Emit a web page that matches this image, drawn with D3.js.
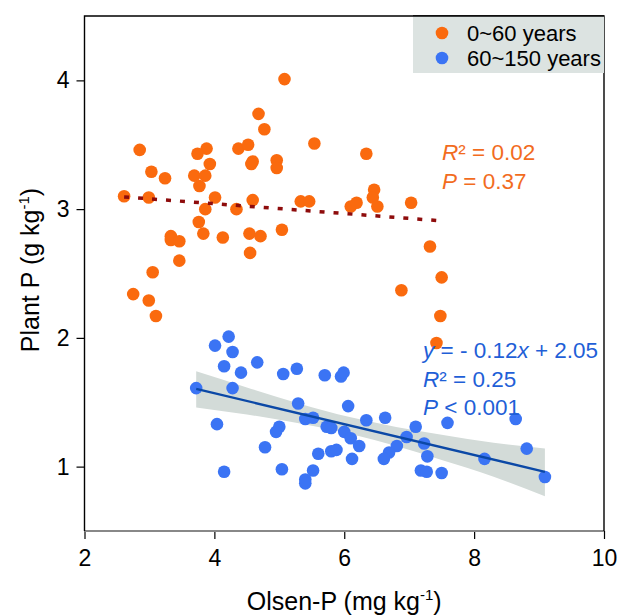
<!DOCTYPE html>
<html>
<head>
<meta charset="utf-8">
<script src="https://cdn.jsdelivr.net/npm/d3@7"></script>
<style>
  body { margin: 0; background: #fff; }
  svg { display: block; font-family: "Liberation Sans", Arial, sans-serif; }
</style>
</head>
<body>
<svg width="619" height="615"></svg>
<script>
// 0~60 years (orange)
let youngX = [5.08, 4.68, 4.77, 2.85, 5.54, 3.88, 3.74, 4.37, 4.52, 3.93, 4.59, 4.57, 4.96, 4.96, 3.03,
  3.24, 3.69, 3.86, 3.77, 2.61, 2.99, 4.01, 4.59, 5.33, 5.46, 6.10, 6.19, 3.86, 4.34, 3.76,
  3.83, 3.33, 3.33, 3.46, 4.13, 4.54, 4.71, 5.04, 4.55, 3.46, 3.05, 2.75, 2.99, 3.10,
  6.34, 6.46, 6.44, 6.51, 7.03, 7.32, 7.50, 6.88, 7.48, 7.42];
let youngY = [4.01, 3.74, 3.62, 3.46, 3.51, 3.47, 3.43, 3.47, 3.50, 3.35, 3.37, 3.35, 3.38, 3.32, 3.29,
  3.24, 3.26, 3.26, 3.18, 3.10, 3.09, 3.09, 3.07, 3.06, 3.06, 3.02, 3.05, 3.00, 3.00, 2.90,
  2.81, 2.79, 2.76, 2.75, 2.78, 2.81, 2.79, 2.84, 2.66, 2.60, 2.51, 2.34, 2.29, 2.17,
  3.43, 3.15, 3.09, 3.02, 3.05, 2.71, 2.47, 2.37, 2.17, 1.96];

// 60~150 years (blue)
let oldX = [4.22, 4.01, 4.28, 4.15, 4.66, 4.41, 5.06, 5.27, 5.70, 5.95, 5.99, 3.72, 4.28, 5.29, 6.06,
  4.04, 5.40, 5.52, 5.73, 5.80, 6.00, 6.10, 6.23, 5.00, 4.95, 4.78, 5.60, 5.80, 5.88, 6.12,
  4.15, 5.04, 5.52, 5.40, 5.40, 6.34, 6.63, 7.10, 7.59, 8.64, 8.81, 9.09, 8.16, 7.28, 7.23,
  6.96, 6.81, 6.69, 6.61, 7.18, 7.27, 7.50];
let oldY = [2.01, 1.94, 1.89, 1.78, 1.81, 1.73, 1.72, 1.76, 1.71, 1.70, 1.73, 1.61, 1.61, 1.49, 1.47,
  1.33, 1.37, 1.38, 1.31, 1.30, 1.27, 1.22, 1.16, 1.31, 1.27, 1.15, 1.10, 1.12, 1.13, 1.06,
  0.96, 0.98, 0.97, 0.90, 0.87, 1.36, 1.38, 1.31, 1.34, 1.37, 1.14, 0.92, 1.06, 1.08, 1.18,
  1.23, 1.16, 1.11, 1.06, 0.97, 0.96, 0.95];

// fitted lines
let youngFit = { slope: -0.038, intercept: 3.194, from: 2.61, to: 7.42 };
let oldFit = { slope: -0.12, intercept: 2.05 };

// 95% band around blue fit
let bandX = [3.72, 4.5, 5.3, 6.1, 6.8, 7.5, 8.3, 9.09];
let bandLo = [1.46, 1.405, 1.337, 1.253, 1.16, 1.052, 0.922, 0.77];
let bandHi = [1.74, 1.615, 1.491, 1.383, 1.308, 1.248, 1.186, 1.14];

let xTicks = [2, 4, 6, 8, 10];
let yTicks = [1, 2, 3, 4];
let legendLabels = ["0~60 years", "60~150 years"];

let orange = "#fa6a0e", blue = "#3b74f4";

var svg = d3.select("svg");
let plotL = 84.5, plotR = 604, plotT = 16, plotB = 531;

let x = d3.scaleLinear().domain([2, 10]).range([plotL, plotR]);
let y = d3.scaleLinear().domain([0.5, 4.5]).range([plotB, plotT]);

// axes
let xAxis = svg.append("g")
  .attr("transform", translate(0, plotB))
  .call(d3.axisBottom(x).tickValues(xTicks).tickFormat(d3.format("d")).tickSize(8).tickPadding(6));
let yAxis = svg.append("g")
  .attr("transform", translate(plotL, 0))
  .call(d3.axisLeft(y).tickValues(yTicks).tickFormat(d3.format("d")).tickSize(8).tickPadding(7));
[xAxis, yAxis].forEach(a => {
  a.select(".domain").remove();
  a.selectAll("line").attr("stroke", "#000").attr("stroke-width", 1.2);
  a.selectAll("text").attr("font-size", 23).attr("fill", "#000")
    .style("font-family", "Liberation Sans, Arial, sans-serif");
});
xAxis.selectAll("text").attr("dy", "0.9em");

// frame
svg.append("line").attr("x1", plotL).attr("x2", plotR).attr("y1", plotB).attr("y2", plotB)
  .attr("stroke", "#888").attr("stroke-width", 2.2);
svg.append("path")
  .attr("d", `M${plotL},${plotB}V${plotT}H${plotR}V${plotB}`)
  .attr("fill", "none").attr("stroke", "#000").attr("stroke-width", 1.4);

// confidence band
let band = bandX.map((v, i) => ({ x: v, lo: bandLo[i], hi: bandHi[i] }));
svg.append("path")
  .datum(band)
  .attr("d", d3.area().x(d => x(d.x)).y0(d => y(d.lo)).y1(d => y(d.hi)).curve(d3.curveMonotoneX))
  .attr("fill", "#d3dbd8");

// points
let young = youngX.map((v, i) => ({ x: v, y: youngY[i] }));
let old = oldX.map((v, i) => ({ x: v, y: oldY[i] }));

svg.append("g").selectAll("circle").data(young).enter().append("circle")
  .attr("cx", d => x(d.x)).attr("cy", d => y(d.y)).attr("r", 6.3)
  .attr("fill", orange);
svg.append("g").selectAll("circle").data(old).enter().append("circle")
  .attr("cx", d => x(d.x)).attr("cy", d => y(d.y)).attr("r", 6.3)
  .attr("fill", blue);

// regression lines
svg.append("line")
  .attr("x1", x(youngFit.from)).attr("y1", y(youngFit.slope * youngFit.from + youngFit.intercept))
  .attr("x2", x(youngFit.to)).attr("y2", y(youngFit.slope * youngFit.to + youngFit.intercept))
  .attr("stroke", "#8e0c0c").attr("stroke-width", 3.5).attr("stroke-dasharray", "5,9");

let ox = d3.extent(oldX);
svg.append("line")
  .attr("x1", x(ox[0])).attr("y1", y(oldFit.slope * ox[0] + oldFit.intercept))
  .attr("x2", x(ox[1])).attr("y2", y(oldFit.slope * ox[1] + oldFit.intercept))
  .attr("stroke", "#0b48a6").attr("stroke-width", 2.4);

// annotations
function note(tx, ty, color, parts) {
  let t = svg.append("text").attr("x", tx).attr("y", ty)
    .attr("font-size", 22.5).attr("fill", color);
  parts.forEach(p => {
    t.append("tspan").text(p[0]).style("font-style", p[1] ? "italic" : "normal");
  });
}
note(442, 160, "#f26c1e", [["R", true], ["² = 0.02", false]]);
note(442, 189, "#f26c1e", [["P", true], [" = 0.37", false]]);
note(423, 358, "#1f5fd7", [["y", true], [" = - 0.12", false], ["x", true], [" + 2.05", false]]);
note(423, 387, "#1f5fd7", [["R", true], ["² = 0.25", false]]);
note(423, 415, "#1f5fd7", [["P", true], [" < 0.001", false]]);

// legend
let lg = svg.append("g");
lg.append("rect").attr("x", 413).attr("y", plotT).attr("width", plotR - 413).attr("height", 57)
  .attr("fill", "#dce3e1");
legendLabels.forEach((name, i) => {
  lg.append("circle").attr("cx", 442).attr("cy", 33 + i * 25).attr("r", 6.3)
    .attr("fill", i == 0 ? orange : blue);
  lg.append("text").attr("x", 467).attr("y", 33 + i * 25).attr("dy", "0.36em")
    .attr("font-size", 22).attr("fill", "#000").text(name);
});
svg.append("line").attr("x1", 413).attr("x2", plotR).attr("y1", plotT).attr("y2", plotT)
  .attr("stroke", "#000").attr("stroke-width", 1.4);

// axis titles
let xt = svg.append("text").attr("x", (plotL + plotR) / 2).attr("y", 610)
  .attr("text-anchor", "middle").attr("font-size", 25).attr("fill", "#000");
xt.append("tspan").text("Olsen-P (mg kg");
xt.append("tspan").text("-1").attr("font-size", 15).attr("dy", -10);
xt.append("tspan").text(")").attr("dy", 10);

let yt = svg.append("text").attr("transform", translate(39, 270) + " rotate(-90)")
  .attr("text-anchor", "middle").attr("font-size", 25).attr("fill", "#000");
yt.append("tspan").text("Plant P (g kg");
yt.append("tspan").text("-1").attr("font-size", 15).attr("dy", -10);
yt.append("tspan").text(")").attr("dy", 10);

function translate(a, b) {
  return `translate(${a},${b})`;
}
</script>
</body>
</html>
